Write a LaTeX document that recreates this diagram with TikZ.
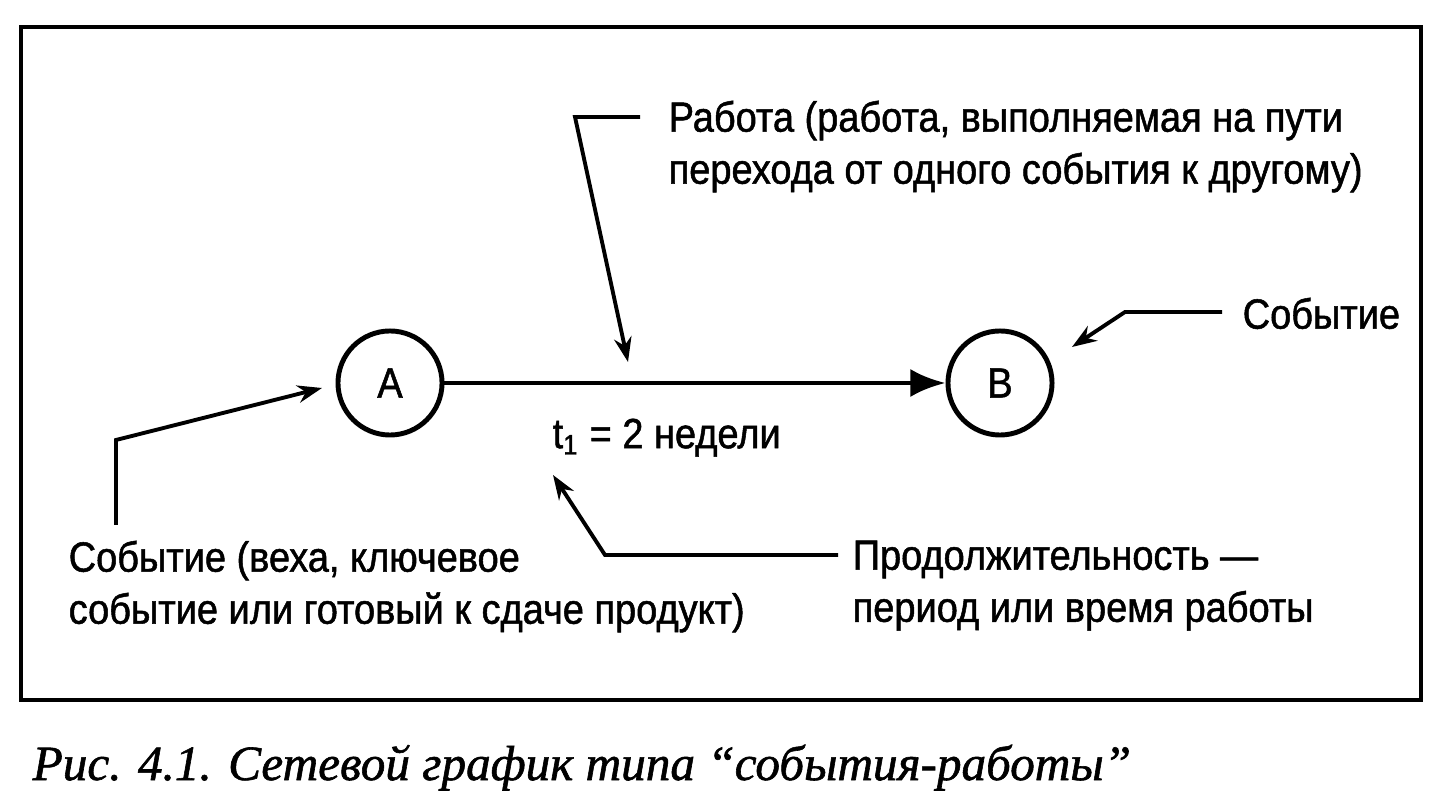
\documentclass[tikz,border=0pt]{standalone}
\usepackage{fontspec}
\setmainfont{Liberation Sans}[FakeStretch=0.9, FakeBold=1.2]
\newfontfamily\capfont{Liberation Serif}[FakeBold=1.2]
\usetikzlibrary{arrows.meta,positioning}

\begin{document}
\begin{tikzpicture}[x=0.01cm, y=-0.01cm,
  event/.style={draw, circle, line width=1.4pt, minimum size=1.04cm, inner sep=0pt, font=\fontsize{12}{14}\selectfont},
  note/.style={inner sep=0pt, align=left, font=\fontsize{12}{14.8}\selectfont},
  ptr/.style={line width=1.1pt, -{Stealth[length=7pt,width=5pt]}},
  work/.style={line width=1.4pt, -{Latex[length=10pt,width=8pt]}}]
  \useasboundingbox (0,0) rectangle (1443,801);
  \draw[line width=1.1pt] (21,27) rectangle (1421,700);
  \node[event] (A) at (390,383) {A};
  \node[event] (B) at (1000,383) {B};
  \draw[work] (A) -- (B);
  \node[note, anchor=north west] (jobnote) at (668,100) {Работа (работа, выполняемая на пути\\перехода от одного события к другому)};
  \node[note, anchor=north west] (eventnote) at (1242,297) {Событие};
  \node[note, anchor=north west] (dur) at (552,418) {t\textsubscript{1} = 2 недели};
  \node[note, anchor=north west] (milestone) at (68,540) {Событие (веха, ключевое\\событие или готовый к сдаче продукт)};
  \node[note, anchor=north west] (durnote) at (852,540) {Продолжительность ---\\период или время работы};
  \node[anchor=base west, inner sep=0pt, font=\capfont\itshape\fontsize{14}{16}\selectfont] (caption) at (32,780) {Рис. 4.1. Сетевой график типа “события-работы”};
  \coordinate (jb0) at (640,117);
  \coordinate (jb1) at (575,117);
  \coordinate (jb2) at (628,362);
  \draw[ptr] (jb0) -- (jb1) -- (jb2);
  \coordinate (eb0) at (1222,312);
  \coordinate (eb1) at (1125,312);
  \coordinate (eb2) at (1072,347);
  \draw[ptr] (eb0) -- (eb1) -- (eb2);
  \coordinate (mb0) at (116,525);
  \coordinate (mb1) at (116,440);
  \coordinate (mb2) at (322,388);
  \draw[ptr] (mb0) -- (mb1) -- (mb2);
  \coordinate (db0) at (838,555);
  \coordinate (db1) at (605,555);
  \coordinate (db2) at (553,475);
  \draw[ptr] (db0) -- (db1) -- (db2);
\end{tikzpicture}
\end{document}
